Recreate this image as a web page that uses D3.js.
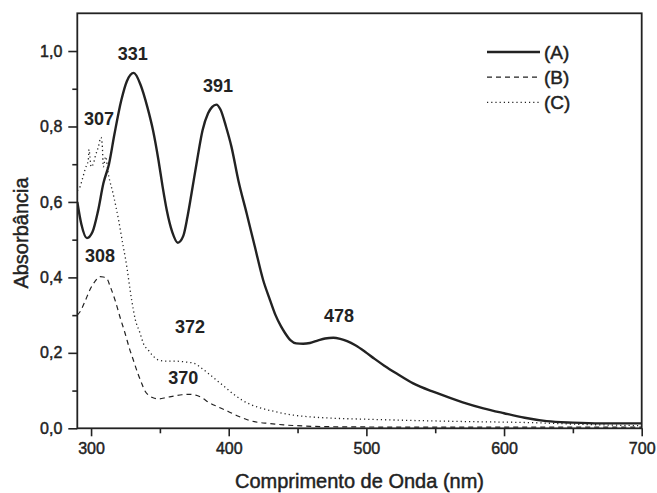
<!DOCTYPE html>
<html><head><meta charset="utf-8">
<script src="https://cdn.jsdelivr.net/npm/d3@7"></script>
<style>
html,body{margin:0;padding:0;background:#fff;}
svg{display:block;font-family:"Liberation Sans",Arial,sans-serif;}
</style></head>
<body><svg id="chart" width="657" height="493"></svg>
<script>
// ---- data ----
const seriesNames = ["(A)", "(B)", "(C)"];
const xTicks = [300, 400, 500, 600, 700];
const xMinorTicks = [350, 450, 550, 650];
const yTicks = [0.0, 0.2, 0.4, 0.6, 0.8, 1.0];
const yMinorTicks = [0.1, 0.3, 0.5, 0.7, 0.9];

const waveA = [290,293,297,301,305,309,313,317,322,326,331,336,341,345,349,352,355,359,363,367,370,373,377,381,385,388,391,394,398,402,407,413,419,425,430,434,438,441,445,449,454,459,465,470,476,481,486,492,499,506,513,522,534,550,570,585,600,615,631,650,670,700];
const absA  = [0.60,0.54,0.504,0.52,0.575,0.65,0.70,0.78,0.87,0.92,0.942,0.91,0.85,0.79,0.71,0.64,0.578,0.52,0.492,0.51,0.56,0.623,0.71,0.79,0.835,0.852,0.858,0.845,0.80,0.746,0.657,0.57,0.481,0.393,0.34,0.30,0.27,0.252,0.233,0.225,0.224,0.226,0.233,0.238,0.24,0.237,0.231,0.22,0.203,0.184,0.166,0.145,0.119,0.095,0.069,0.053,0.04,0.028,0.019,0.015,0.013,0.013];

const waveB = [290,292,296,299,303,306.5,309,311.4,314,317.4,321,324.7,328,330.7,334,336.8,339,341.6,345,349,355,361,366,371,376,381,385,392,400,407,414,421,429,440,455,480,550,620,700];
const absB  = [0.30,0.309,0.34,0.366,0.39,0.402,0.401,0.397,0.375,0.34,0.295,0.252,0.21,0.181,0.145,0.119,0.10,0.088,0.081,0.078,0.082,0.086,0.089,0.09,0.088,0.08,0.07,0.057,0.044,0.032,0.022,0.016,0.013,0.009,0.006,0.004,0.003,0.003,0.003];

const waveC = [290,292,294,296,298,298.5,299.2,300,302,303,305.3,307.2,308.2,308.9,310.6,312.5,316,320,323.4,325,329.5,332,335.6,338,341.6,345,349,355,361,368,375,380,385,391,397,403,409.5,416,424,434,445,460,474,500,520,570,620,660,700];
const absC  = [0.63,0.64,0.665,0.69,0.711,0.739,0.72,0.693,0.705,0.72,0.746,0.771,0.746,0.693,0.72,0.675,0.622,0.552,0.481,0.45,0.34,0.29,0.252,0.225,0.207,0.192,0.181,0.178,0.178,0.176,0.172,0.16,0.146,0.128,0.11,0.092,0.075,0.063,0.053,0.044,0.036,0.03,0.027,0.024,0.022,0.018,0.015,0.01,0.007];

const peakLabels = ["331", "391", "307", "308", "372", "370", "478"];
const peakLabelX = [330.3, 392.2, 305.8, 306.5, 371.9, 367.0, 480.2];
const peakLabelY = [0.976, 0.891, 0.803, 0.441, 0.252, 0.117, 0.282];

// ---- layout ----
const W = 657, H = 493;
const m = {left: 77.3, top: 13.3, right: 15.3, bottom: 64.7};
const svg = d3.select("#chart");
const x = d3.scaleLinear().domain([290, 700]).range([m.left, W - m.right]);
const y = d3.scaleLinear().domain([0, 1.1]).range([H - m.bottom, m.top]);
const ink = "#222";
const heavy = sel => sel.attr("stroke", ink).attr("stroke-width", 0.45).attr("paint-order", "stroke");

// clip
svg.append("defs").append("clipPath").attr("id","clip").append("rect")
  .attr("x", m.left).attr("y", m.top).attr("width", W - m.left - m.right).attr("height", H - m.top - m.bottom);

// axes
const fmt = d => d3.format(".1f")(d).replace(".", ",");
const gx = svg.append("g").attr("transform", `translate(0,${H - m.bottom})`)
  .call(d3.axisBottom(x).tickValues(xTicks).tickSize(8).tickPadding(6).tickFormat(d3.format("d")));
const gxm = svg.append("g").attr("transform", `translate(0,${H - m.bottom})`)
  .call(d3.axisBottom(x).tickValues(xMinorTicks).tickSize(5).tickFormat(""));
const gy = svg.append("g").attr("transform", `translate(${m.left},0)`)
  .call(d3.axisLeft(y).tickValues(yTicks).tickSize(9).tickPadding(6).tickFormat(fmt));
const gym = svg.append("g").attr("transform", `translate(${m.left},0)`)
  .call(d3.axisLeft(y).tickValues(yMinorTicks).tickSize(5).tickFormat(""));
[gx, gxm, gy, gym].forEach(g => {
  g.select(".domain").remove();
  g.selectAll(".tick line").attr("stroke", ink).attr("stroke-width", 1.6);
  g.selectAll(".tick text").attr("fill", ink).style("font-size", "16px")
    .style("font-family", '"Liberation Sans", Arial, sans-serif').call(heavy);
});

// frame
svg.append("rect").attr("x", m.left).attr("y", m.top)
  .attr("width", W - m.left - m.right).attr("height", H - m.top - m.bottom)
  .attr("fill", "none").attr("stroke", ink).attr("stroke-width", 1.8);

// lines
const line = d3.line().x(d => x(d[0])).y(d => y(d[1])).curve(d3.curveMonotoneX);
const dataA = waveA.map((w, i) => [w, absA[i]]);
const dataB = waveB.map((w, i) => [w, absB[i]]);
const dataC = waveC.map((w, i) => [w, absC[i]]);
const styles = [
  {w: 2.4, dash: null},
  {w: 1.2, dash: "5,4"},
  {w: 1.3, dash: "1.2,3"}
];
const plot = svg.append("g").attr("clip-path", "url(#clip)");
[dataC, dataB, dataA].forEach((d, k) => {
  const s = styles[2 - k];
  plot.append("path").datum(d).attr("d", line).attr("fill", "none")
    .attr("stroke", ink).attr("stroke-width", s.w)
    .attr("stroke-dasharray", s.dash).attr("stroke-linejoin", "round");
});

// peak labels
svg.append("g").selectAll("text").data(peakLabels).join("text")
  .attr("x", (d, i) => x(peakLabelX[i])).attr("y", (d, i) => y(peakLabelY[i]))
  .attr("text-anchor", "middle").attr("fill", ink)
  .style("font-size", "18px").style("font-weight", "bold").text(d => d);

// legend
const lg = svg.append("g").attr("transform", "translate(487,52)");
seriesNames.forEach((n, i) => {
  const s = styles[i];
  lg.append("line").attr("x1", 0).attr("x2", 53).attr("y1", i * 25.2).attr("y2", i * 25.2)
    .attr("stroke", ink).attr("stroke-width", s.w).attr("stroke-dasharray", s.dash);
  lg.append("text").attr("x", 57).attr("y", i * 25.2 + 6.5).attr("fill", ink)
    .style("font-size", "19px").text(n).call(heavy);
});

// axis titles
svg.append("text").attr("x", (m.left + W - m.right) / 2).attr("y", 488)
  .attr("text-anchor", "middle").attr("fill", ink).style("font-size", "20px")
  .text("Comprimento de Onda (nm)").call(heavy);
svg.append("text").attr("transform", "translate(28,233) rotate(-90)")
  .attr("text-anchor", "middle").attr("fill", ink).style("font-size", "20px")
  .text("Absorbância").call(heavy);
</script></body></html>
